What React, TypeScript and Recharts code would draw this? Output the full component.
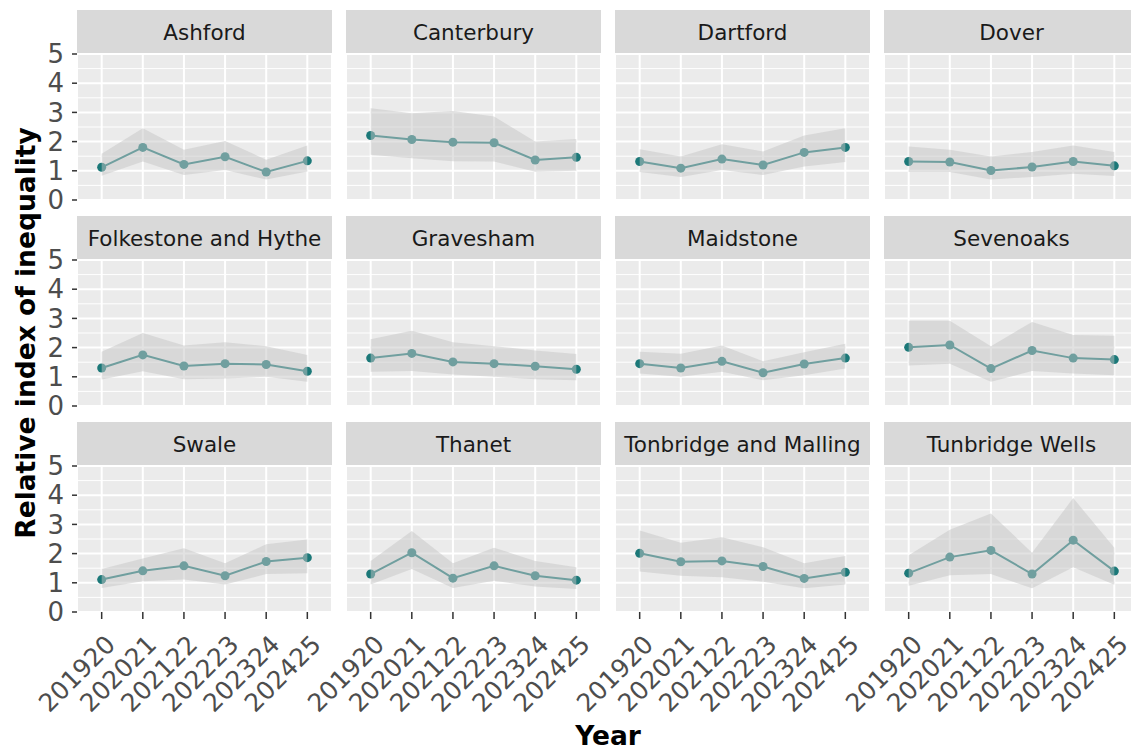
import React from "react";
import {
  Area,
  CartesianGrid,
  ComposedChart,
  Line,
  ReferenceLine,
  XAxis,
  YAxis
} from "recharts";

const years = ["201920", "202021", "202122", "202223", "202324", "202425"];
const yTicks = [0, 1, 2, 3, 4, 5];
const minorTicks = [0.5, 1.5, 2.5, 3.5, 4.5];

const districts = [
  "Ashford",
  "Canterbury",
  "Dartford",
  "Dover",
  "Folkestone and Hythe",
  "Gravesham",
  "Maidstone",
  "Sevenoaks",
  "Swale",
  "Thanet",
  "Tonbridge and Malling",
  "Tunbridge Wells"
];

// relative index of inequality, then lower / upper confidence limits
const ashfordRii = [1.12, 1.8, 1.22, 1.48, 0.96, 1.34];
const ashfordLow = [0.83, 1.32, 0.86, 1.03, 0.7, 0.98];
const ashfordHigh = [1.58, 2.46, 1.72, 2.02, 1.38, 1.87];

const canterburyRii = [2.21, 2.07, 1.98, 1.96, 1.37, 1.46];
const canterburyLow = [1.55, 1.43, 1.33, 1.32, 0.97, 1.0];
const canterburyHigh = [3.14, 2.97, 3.05, 2.86, 2.0, 2.09];

const dartfordRii = [1.32, 1.09, 1.4, 1.2, 1.63, 1.8];
const dartfordLow = [0.96, 0.79, 1.03, 0.86, 1.15, 1.3];
const dartfordHigh = [1.74, 1.49, 1.91, 1.66, 2.21, 2.46];

const doverRii = [1.32, 1.3, 1.01, 1.13, 1.32, 1.17];
const doverLow = [0.96, 0.96, 0.7, 0.79, 0.9, 0.82];
const doverHigh = [1.83, 1.72, 1.49, 1.64, 1.87, 1.64];

const folkestoneRii = [1.3, 1.75, 1.37, 1.45, 1.42, 1.19];
const folkestoneLow = [0.91, 1.19, 0.92, 0.94, 1.0, 0.83];
const folkestoneHigh = [1.86, 2.5, 2.07, 2.18, 2.05, 1.75];

const graveshamRii = [1.64, 1.8, 1.51, 1.45, 1.36, 1.26];
const graveshamLow = [1.17, 1.2, 1.08, 1.0, 0.92, 0.88];
const graveshamHigh = [2.29, 2.58, 2.18, 2.05, 1.9, 1.78];

const maidstoneRii = [1.45, 1.3, 1.53, 1.14, 1.44, 1.64];
const maidstoneLow = [1.11, 1.0, 1.17, 0.88, 1.05, 1.28];
const maidstoneHigh = [1.86, 1.79, 2.07, 1.53, 1.84, 2.13];

const sevenoaksRii = [2.01, 2.09, 1.28, 1.9, 1.64, 1.59];
const sevenoaksLow = [1.39, 1.45, 0.83, 1.2, 1.11, 1.05];
const sevenoaksHigh = [2.92, 2.92, 2.05, 2.88, 2.43, 2.41];

const swaleRii = [1.11, 1.41, 1.58, 1.24, 1.73, 1.86];
const swaleLow = [0.82, 1.05, 1.11, 0.94, 1.3, 1.33];
const swaleHigh = [1.47, 1.83, 2.18, 1.67, 2.32, 2.48];

const thanetRii = [1.3, 2.03, 1.16, 1.58, 1.24, 1.09];
const thanetLow = [0.94, 1.47, 0.82, 1.07, 0.87, 0.79];
const thanetHigh = [1.75, 2.77, 1.67, 2.2, 1.75, 1.53];

const tonbridgeRii = [2.01, 1.72, 1.75, 1.56, 1.15, 1.36];
const tonbridgeLow = [1.39, 1.24, 1.19, 1.04, 0.81, 0.94];
const tonbridgeHigh = [2.79, 2.37, 2.56, 2.22, 1.67, 1.92];

const tunbridgeRii = [1.33, 1.88, 2.11, 1.3, 2.46, 1.4];
const tunbridgeLow = [0.9, 1.26, 1.3, 0.81, 1.53, 0.93];
const tunbridgeHigh = [1.94, 2.82, 3.37, 2.03, 3.9, 2.2];

const riiSeries = [
  ashfordRii, canterburyRii, dartfordRii, doverRii,
  folkestoneRii, graveshamRii, maidstoneRii, sevenoaksRii,
  swaleRii, thanetRii, tonbridgeRii, tunbridgeRii
];
const lowSeries = [
  ashfordLow, canterburyLow, dartfordLow, doverLow,
  folkestoneLow, graveshamLow, maidstoneLow, sevenoaksLow,
  swaleLow, thanetLow, tonbridgeLow, tunbridgeLow
];
const highSeries = [
  ashfordHigh, canterburyHigh, dartfordHigh, doverHigh,
  folkestoneHigh, graveshamHigh, maidstoneHigh, sevenoaksHigh,
  swaleHigh, thanetHigh, tonbridgeHigh, tunbridgeHigh
];

const FONT = "'DejaVu Sans', Verdana, sans-serif";
const PANEL_W = 255;
const PANEL_H = 146;
const STRIP_H = 44;
const COL_STEP = 269;
const ROW_STEP = 206;
const LEFT0 = 77;
const TOP0 = 10;
const Y_AXIS_W = 77;
const X_AXIS_H = 104;
const PAD = 16; // room for the 0 and 5 labels above/below the panel
const LABEL_PAD = 60; // room for the first rotated year label in inner columns

function YearTick(props: any) {
  const { x, y, payload } = props;
  return (
    <g transform={`translate(${x + 2},${y + 12})`}>
      <text
        textAnchor="end"
        dy="0.74em"
        transform="rotate(-45)"
        fill="#4D4D4D"
        fontSize={25}
        fontFamily={FONT}
      >
        {years[payload.value - 1]}
      </text>
    </g>
  );
}

function Panel({ index }: { index: number }) {
  const col = index % 4;
  const row = Math.floor(index / 4);
  const showY = col === 0;
  const showX = row === 2;
  const left = LEFT0 + col * COL_STEP;
  const top = TOP0 + row * ROW_STEP;
  const extraLeft = showY ? Y_AXIS_W : showX ? LABEL_PAD : 0;

  const data = years.map((year, i) => ({
    x: i + 1,
    year,
    rii: riiSeries[index][i],
    band: [lowSeries[index][i], highSeries[index][i]]
  }));

  return (
    <>
      <div
        style={{
          position: "absolute",
          left,
          top,
          width: PANEL_W,
          height: STRIP_H,
          background: "#D9D9D9",
          color: "#1A1A1A",
          fontFamily: FONT,
          fontSize: 21.5,
          display: "flex",
          alignItems: "center",
          justifyContent: "center",
          whiteSpace: "nowrap"
        }}
      >
        {districts[index]}
      </div>
      <div
        style={{
          position: "absolute",
          left: left - extraLeft,
          top: top + STRIP_H - PAD
        }}
      >
        <ComposedChart
          width={PANEL_W + extraLeft}
          height={PANEL_H + 2 * PAD + (showX ? X_AXIS_H : 0)}
          data={data}
          margin={{
            top: PAD,
            right: 0,
            bottom: PAD,
            left: showY ? 0 : extraLeft
          }}
        >
          <CartesianGrid fill="#EBEBEB" stroke="#FFFFFF" strokeWidth={2} />
          {minorTicks.map((v) => (
            <ReferenceLine key={v} y={v} stroke="#FFFFFF" strokeWidth={1} zIndex={-50} />
          ))}
          <XAxis
            dataKey="x"
            type="number"
            domain={[0.4, 6.6]}
            ticks={[1, 2, 3, 4, 5, 6]}
            hide={!showX}
            height={X_AXIS_H}
            axisLine={false}
            tickSize={7}
            tickLine={{ stroke: "#333333", strokeWidth: 1.5 }}
            tick={<YearTick />}
            interval={0}
          />
          <YAxis
            type="number"
            domain={[0, 5]}
            ticks={yTicks}
            hide={!showY}
            width={Y_AXIS_W}
            axisLine={false}
            tickSize={5}
            tickMargin={8}
            tickLine={{ stroke: "#333333", strokeWidth: 1.5 }}
            tick={{ fill: "#4D4D4D", fontSize: 26, fontFamily: FONT }}
            interval={0}
          />
          <Line
            dataKey="rii"
            stroke="#1B7878"
            strokeWidth={2}
            dot={{ r: 4.5, fill: "#1B7878", stroke: "none" }}
            activeDot={false}
            isAnimationActive={false}
          />
          <Area
            dataKey="band"
            fill="#C6C6C6"
            fillOpacity={0.5}
            stroke="none"
            activeDot={false}
            zIndex={1000}
            isAnimationActive={false}
          />
        </ComposedChart>
      </div>
    </>
  );
}

export default function App() {
  return (
    <div
      style={{
        position: "absolute",
        left: 0,
        top: 0,
        width: 1131,
        height: 750,
        overflow: "hidden",
        background: "#FFFFFF"
      }}
    >
      {districts.map((d, i) => (
        <Panel key={d} index={i} />
      ))}
      <div
        style={{
          position: "absolute",
          left: 26,
          top: 333,
          transform: "translate(-50%, -50%) rotate(-90deg)",
          fontFamily: FONT,
          fontWeight: "bold",
          fontSize: 26.5,
          lineHeight: 1,
          color: "#000000",
          whiteSpace: "nowrap"
        }}
      >
        Relative index of inequality
      </div>
      <div
        style={{
          position: "absolute",
          left: 608,
          top: 736,
          transform: "translate(-50%, -50%)",
          fontFamily: FONT,
          fontWeight: "bold",
          fontSize: 26.5,
          lineHeight: 1,
          color: "#000000",
          whiteSpace: "nowrap"
        }}
      >
        Year
      </div>
    </div>
  );
}
